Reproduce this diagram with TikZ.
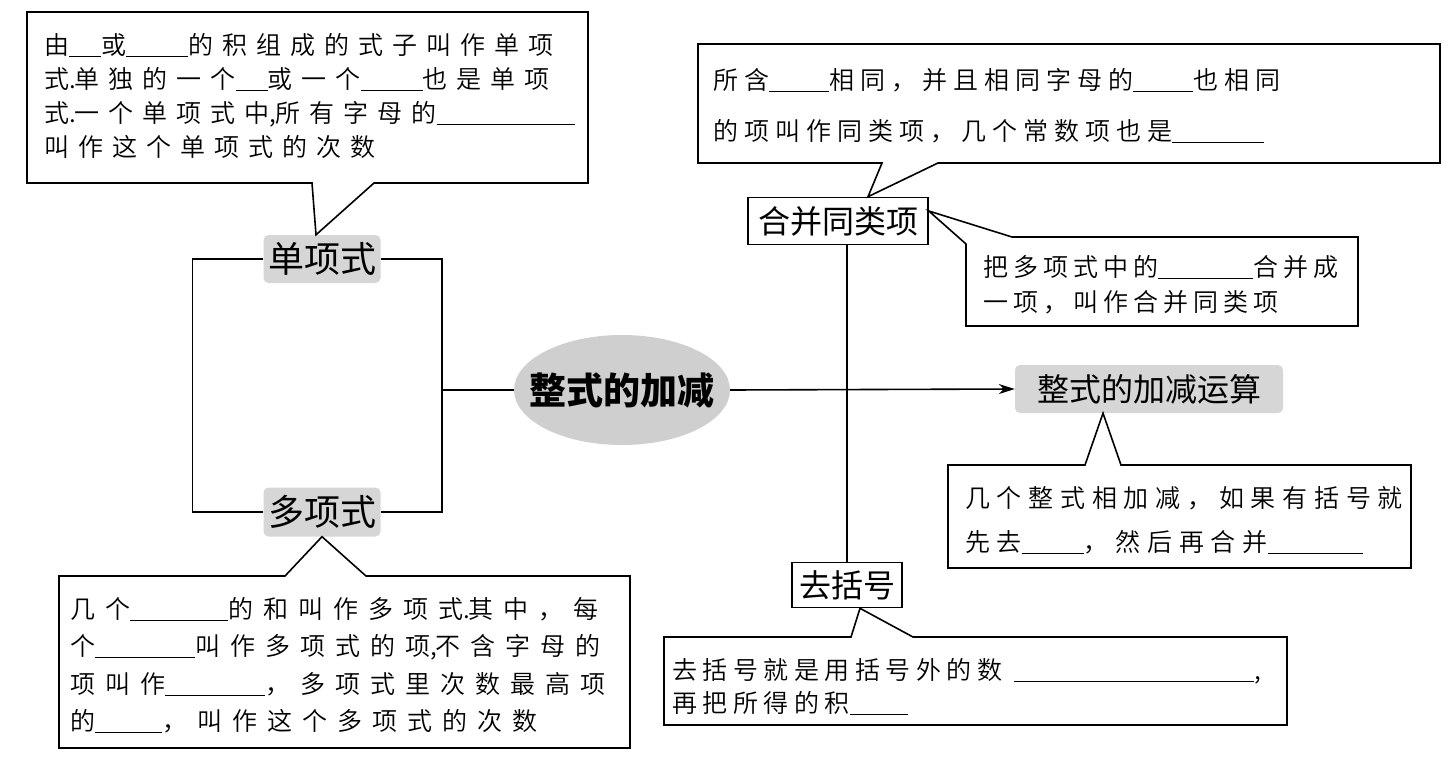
\documentclass[tikz,border=0pt]{standalone}
\usepackage{fontspec}
\usetikzlibrary{shapes.geometric,arrows.meta}
\newfontfamily\cjk{Noto Sans CJK SC}
\newfontfamily\cjkl{Noto Sans CJK SC DemiLight}
\newcommand\fillin[1]{\rule[-3pt]{#1pt}{1.4pt}}
\newcommand\pd[1]{{\cjkl\fontsize{25}{25}\selectfont#1}\kern-1pt}
\definecolor{gfill}{HTML}{D6D6D6}
\definecolor{efill}{HTML}{CFCFCF}
\begin{document}
\begin{tikzpicture}[x=1pt,y=-1pt,
  line/.style={line width=1.6pt},
  gnode/.style={fill=gfill, rounded corners=5pt, inner sep=0pt},
  wbox/.style={draw, line width=1.6pt, fill=white, inner sep=0pt, font={\cjk\fontsize{32}{32}\selectfont}},
  callout/.style={draw, line width=1.6pt, line join=miter},
  txt/.style={anchor=base west, inner sep=0pt, font={\cjkl\fontsize{25}{25}\selectfont\addfontfeatures{LetterSpace=#1}}},
]
\useasboundingbox (0,0) rectangle (1449,763);
\fill[white] (0,0) rectangle (1449,763);

% main nodes
\node[gnode, minimum width=117pt, minimum height=48pt, font={\cjk\fontsize{36}{36}\selectfont}] (dan) at (322,259) {单项式};
\node[gnode, minimum width=117pt, minimum height=49pt, font={\cjk\fontsize{36}{36}\selectfont}] (duo) at (322,512) {多项式};
\node[ellipse, fill=efill, minimum width=216pt, minimum height=110pt, inner sep=-30pt,
      font={\cjk\bfseries\fontsize{37}{37}\selectfont}] (root) at (622,390) {整式的加减};
\node[gnode, minimum width=268pt, minimum height=48pt, font={\cjk\fontsize{32}{32}\selectfont}] (yun) at (1149,389) {整式的加减运算};
\node[wbox, minimum width=180pt, minimum height=47pt] (hb) at (838,221) {合并同类项};
\node[wbox, minimum width=110pt, minimum height=45pt] (qk) at (847,585) {去括号};

% connectors
\draw[line] (dan.west) -- ++(-71,0) |- (duo.west);
\draw[line] (dan.east) -- ++(61,0) |- (duo.east);
\coordinate (j) at (441,390);
\draw[line] (j) -- (root.west);
\draw[line, -{Stealth[length=16pt,width=10pt]}] (root.east) -- (yun.west);
\draw[line] (hb.south -| qk.north) -- (qk.north);

% callouts
\draw[callout] (27,12) -- (588,12) -- (588,183) -- (374,183) -- ([xshift=-6pt]dan.north) -- (312,183) -- (27,183) -- cycle;
\draw[callout] (698,44) -- (1440,44) -- (1440,163) -- (938,163) -- ([xshift=30pt]hb.north) -- (882,163) -- (698,163) -- cycle;
\draw[callout] (1012,237) -- (1358,237) -- (1358,326) -- (966,326) -- (966,244) -- ([yshift=10pt]hb.east) -- cycle;
\draw[callout] (948,465) -- (1085,465) -- ([xshift=-46pt]yun.south) -- (1121,465) -- (1411,465) -- (1411,568) -- (948,568) -- cycle;
\draw[callout] (59,576) -- (285,576) -- (duo.south) -- (366,576) -- (630,576) -- (630,748) -- (59,748) -- cycle;
\draw[callout] (664,637) -- (851,637) -- ([xshift=13pt]qk.south) -- (913,637) -- (1287,637) -- (1287,725) -- (664,725) -- cycle;

% callout texts
\node[txt=36] (tl1) at (44,54) {由\fillin{32}或\fillin{62}的积组成的式子叫作单项};
\node[txt=36] (tl2) at (44,88) {式\pd{.}单独的一个\fillin{32}或一个\fillin{62}也是单项};
\node[txt=36] (tl3) at (44,122) {式\pd{.}一个单项式中\pd{,}所有字母的\fillin{138}};
\node[txt=36] (tl4) at (44,156) {叫作这个单项式的次数};

\node[txt=24] (tr1) at (713,89) {所含\fillin{60}相同，并且相同字母的\fillin{60}也相同};
\node[txt=24] (tr2) at (713,140) {的项叫作同类项，几个常数项也是\fillin{92}};

\node[txt=20] (mr1) at (983,276) {把多项式中的\fillin{95}合并成};
\node[txt=20] (mr2) at (983,311) {一项，叫作合并同类项};

\node[txt=27] (r1) at (965,507) {几个整式相加减，如果有括号就};
\node[txt=27] (r2) at (965,551) {先去\fillin{62}，然后再合并\fillin{95}};

\node[txt=40] (bl1) at (70,618) {几个\fillin{98}的和叫作多项式\pd{.}其中，每};
\node[txt=40] (bl2) at (70,655) {个\fillin{100}叫作多项式的项\pd{,}不含字母的};
\node[txt=40] (bl3) at (70,693) {项叫作\fillin{100}，多项式里次数最高项};
\node[txt=40] (bl4) at (70,730) {的\fillin{67}，叫作这个多项式的次数};

\node[txt=22] (bm1) at (672,679) {去括号就是用括号外的数\hspace{12pt}\fillin{240},};
\node[txt=22] (bm2) at (672,712) {再把所得的积\fillin{58}};
\end{tikzpicture}
\end{document}
